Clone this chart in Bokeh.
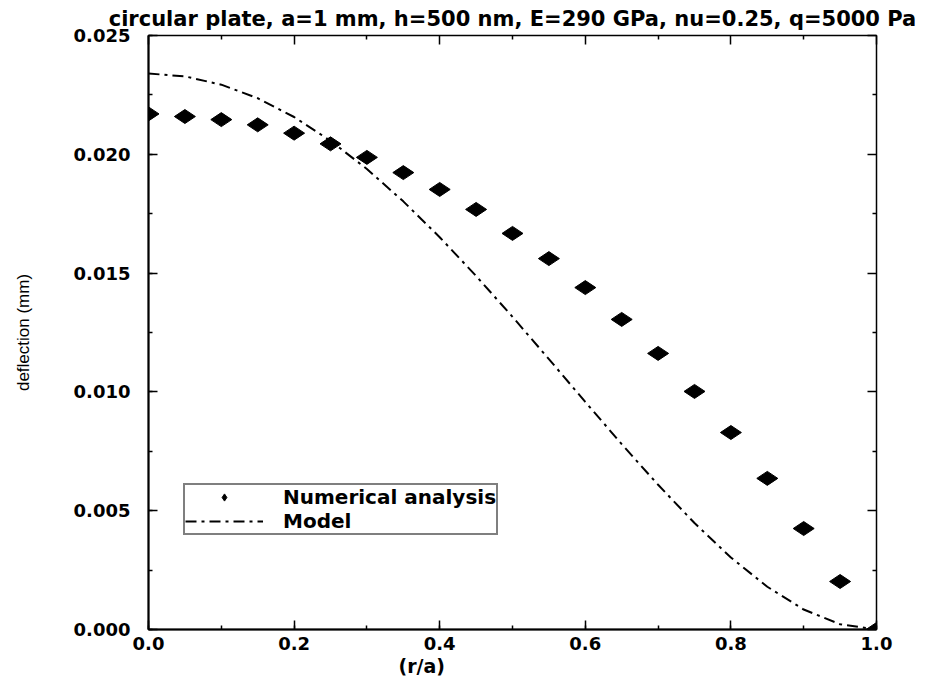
from bokeh.plotting import figure
from bokeh.models import (LinearAxis, Range1d, Legend, LegendItem,
                          PrintfTickFormatter, SingleIntervalTicker, Title,
                          FixedTicker)
from bokeh.embed import file_html
from bokeh.resources import INLINE
import numpy as np

# --- data ---
r_num = [0.00, 0.05, 0.10, 0.15, 0.20, 0.25, 0.30, 0.35, 0.40, 0.45, 0.50,
         0.55, 0.60, 0.65, 0.70, 0.75, 0.80, 0.85, 0.90, 0.95, 1.00]
w_num = [0.02170, 0.02159, 0.02146, 0.02124, 0.02089, 0.02044, 0.01987, 0.01923,
         0.01852, 0.01768, 0.01667, 0.01561, 0.01439, 0.01305, 0.01162, 0.01002,
         0.00829, 0.00636, 0.00425, 0.00202, 0.00000]
r_model = [0.00, 0.05, 0.10, 0.15, 0.20, 0.25, 0.30, 0.35, 0.40, 0.45, 0.50,
           0.55, 0.60, 0.65, 0.70, 0.75, 0.80, 0.85, 0.90, 0.95, 1.00]
w_model = [0.02340, 0.02328, 0.02293, 0.02236, 0.02157, 0.02057, 0.01938, 0.01802,
           0.01651, 0.01488, 0.01316, 0.01138, 0.00958, 0.00780, 0.00609, 0.00448,
           0.00303, 0.00180, 0.00084, 0.00022, 0.00000]

# tick positions (frame ticks on top / right sides, no labels)
x_major = [0.0, 0.2, 0.4, 0.6, 0.8, 1.0]
x_minor = [0.1, 0.3, 0.5, 0.7, 0.9]
y_major = [0.0, 0.005, 0.010, 0.015, 0.020, 0.025]
y_minor = [0.0025, 0.0075, 0.0125, 0.0175, 0.0225]

title_text = "circular plate, a=1 mm, h=500 nm, E=290 GPa, nu=0.25, q=5000 Pa"
x_label = "(r/a)"
y_label = "deflection (mm)"
legend_labels = ["Numerical analysis", "Model"]

BOLD = "DejaVu Sans"

p = figure(width=928, height=676, output_backend="svg", toolbar_location=None,
           x_range=Range1d(0, 1), y_range=Range1d(0, 0.025),
           min_border_left=148, min_border_right=52, min_border_top=35,
           min_border_bottom=47, x_axis_location=None, y_axis_location=None)
p.background_fill_color = "white"
p.border_fill_color = "white"
p.grid.visible = False
p.outline_line_color = "black"
p.outline_line_width = 1.5

p.title = Title(text=title_text, align="center", text_font=BOLD,
                text_font_size="21px", text_font_style="bold", text_color="black",
                standoff=9, offset=2)


def style_axis(ax):
    ax.major_tick_in = 9
    ax.major_tick_out = 0
    ax.minor_tick_in = 4
    ax.minor_tick_out = 0
    ax.major_tick_line_color = "black"
    ax.minor_tick_line_color = "black"
    ax.major_tick_line_width = 1.5
    ax.minor_tick_line_width = 1.5
    ax.axis_line_color = "black"
    ax.axis_line_width = 2
    ax.major_label_text_font = BOLD
    ax.major_label_text_font_style = "bold"
    ax.major_label_text_font_size = "18px"
    ax.major_label_text_color = "black"


def frame_ticks(positions, length, side):
    ax = LinearAxis(ticker=FixedTicker(ticks=[], minor_ticks=positions))
    ax.major_label_standoff = 0
    ax.minor_tick_in = length
    ax.minor_tick_out = 0
    ax.minor_tick_line_color = "black"
    ax.minor_tick_line_width = 1.5
    ax.axis_line_color = None
    p.add_layout(ax, side)


xb = LinearAxis(ticker=SingleIntervalTicker(interval=0.2, num_minor_ticks=2),
                formatter=PrintfTickFormatter(format="%.1f"))
style_axis(xb)
xb.major_label_standoff = 7
p.add_layout(xb, "below")

p.add_layout(Title(text=x_label, align="left", offset=250, text_font=BOLD,
                   text_font_style="bold", text_font_size="19px",
                   text_color="black", standoff=0), "below")

yl = LinearAxis(ticker=SingleIntervalTicker(interval=0.005, num_minor_ticks=2),
                formatter=PrintfTickFormatter(format="%.3f"),
                axis_label=y_label)
style_axis(yl)
yl.major_label_standoff = 18
yl.axis_label_text_font = "Liberation Sans"
yl.axis_label_text_font_style = "normal"
yl.axis_label_text_font_size = "17px"
yl.axis_label_text_color = "black"
yl.axis_label_standoff = 38
p.add_layout(yl, "left")

frame_ticks(x_major, 9, "above")
frame_ticks(x_minor, 4, "above")
frame_ticks(y_major, 9, "right")
frame_ticks(y_minor, 4, "right")

model = p.line(r_model, w_model, line_color="black", line_width=2,
               line_dash="11 5 3 5")
pts = p.scatter(r_num, w_num, marker="diamond", size=21, angle=np.pi / 2,
                fill_color="black", line_color="black")

legend = Legend(items=[LegendItem(label=legend_labels[0], renderers=[pts]),
                       LegendItem(label=legend_labels[1], renderers=[model])],
                location=(35, 94), orientation="vertical",
                label_text_font=BOLD, label_text_font_style="bold",
                label_text_font_size="20px", label_text_color="black",
                glyph_width=78, glyph_height=18, label_standoff=20,
                label_height=18, spacing=0, padding=0, margin=0,
                border_line_color="black", border_line_width=2,
                background_fill_color="white", background_fill_alpha=1)
p.add_layout(legend, "center")

open("out.html", "w").write(file_html(p, INLINE))
